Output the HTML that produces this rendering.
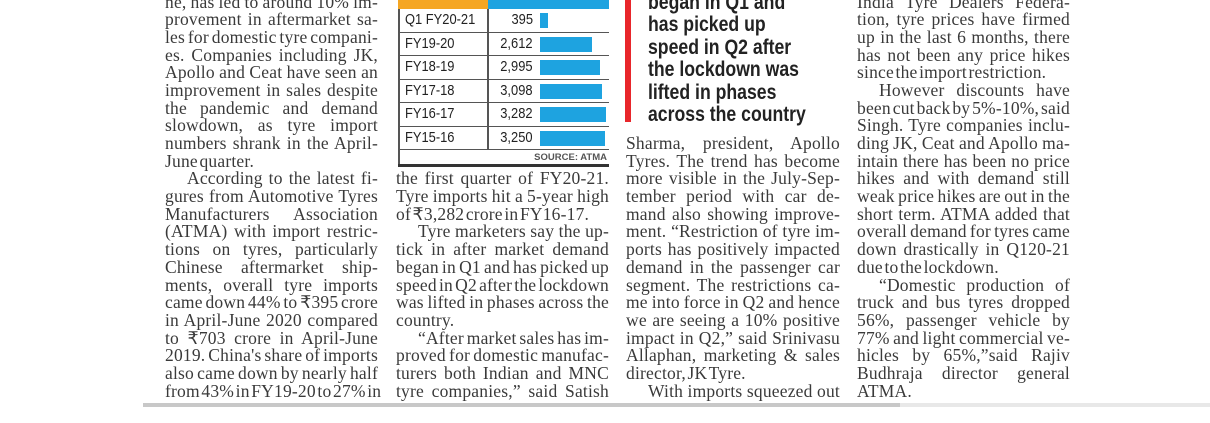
<!DOCTYPE html>
<html><head><meta charset="utf-8"><style>
*{margin:0;padding:0;box-sizing:border-box}
body{width:1210px;height:423px;background:#fff;position:relative;overflow:hidden;font-family:"Liberation Serif",serif;color:#3a3a3a}
.col{position:absolute;top:-6.5px;font-size:17.5px;line-height:17.7px;letter-spacing:0.2px;word-spacing:-3px}
.col div{height:17.7px;white-space:nowrap;text-align:justify;text-align-last:justify;overflow:visible}
.col div.l{text-align-last:left}
.col div.i{padding-left:22px}
.hl{position:absolute;left:648px;top:-8px;font-family:"Liberation Sans",sans-serif;font-weight:bold;font-size:21px;line-height:22.4px;color:#222;transform:scaleX(0.84);transform-origin:left top;white-space:nowrap}
.tb{position:absolute;left:398px;top:0;width:211px;font-family:"Liberation Sans",sans-serif;font-size:15px;color:#222}
.row{position:absolute;left:0;width:211px;height:23.5px;border-bottom:1.5px solid #555}
.row .a{position:absolute;left:7px;top:2px;transform:scaleX(0.86);transform-origin:left}
.row .n{position:absolute;right:76px;top:2px;transform:scaleX(0.86);transform-origin:right}
.row .b{position:absolute;left:142px;top:4px;height:15px;background:#1ea3e0}
</style></head><body>

<div class="col" style="left:165px;width:213px">
<div>ne, has led to around 10% im-</div>
<div>provement in aftermarket sa-</div>
<div>les for domestic tyre compani-</div>
<div>es. Companies including JK,</div>
<div>Apollo and Ceat have seen an</div>
<div>improvement in sales despite</div>
<div>the pandemic and demand</div>
<div>slowdown, as tyre import</div>
<div>numbers shrank in the April-</div>
<div class="l">June quarter.</div>
<div class="i">According to the latest fi-</div>
<div>gures from Automotive Tyres</div>
<div>Manufacturers Association</div>
<div>(ATMA) with import restric-</div>
<div>tions on tyres, particularly</div>
<div>Chinese aftermarket ship-</div>
<div>ments, overall tyre imports</div>
<div>came down 44% to ₹395 crore</div>
<div>in April-June 2020 compared</div>
<div>to ₹703 crore in April-June</div>
<div>2019. China's share of imports</div>
<div>also came down by nearly half</div>
<div>from 43% in FY19-20 to 27% in</div>
</div>

<div class="tb">
<div style="position:absolute;left:0;top:0;width:90px;height:9px;background:#f5a623"></div>
<div style="position:absolute;left:90px;top:0;width:121px;height:9px;background:#1ea3e0"></div>
<div style="position:absolute;left:0;top:9px;width:1.5px;height:157px;background:#555"></div>
<div style="position:absolute;left:89px;top:9px;width:1.5px;height:141px;background:#555"></div>
<div class="row" style="top:9px"><span class="a">Q1 FY20-21</span><span class="n">395</span><span class="b" style="width:8px"></span></div>
<div class="row" style="top:32.5px"><span class="a">FY19-20</span><span class="n">2,612</span><span class="b" style="width:52px"></span></div>
<div class="row" style="top:56px"><span class="a">FY18-19</span><span class="n">2,995</span><span class="b" style="width:60px"></span></div>
<div class="row" style="top:79.5px"><span class="a">FY17-18</span><span class="n">3,098</span><span class="b" style="width:62px"></span></div>
<div class="row" style="top:103px"><span class="a">FY16-17</span><span class="n">3,282</span><span class="b" style="width:66px"></span></div>
<div class="row" style="top:126.5px"><span class="a">FY15-16</span><span class="n">3,250</span><span class="b" style="width:65px"></span></div>
<div style="position:absolute;right:2px;top:152px;font-size:9.5px;font-weight:bold;color:#555">SOURCE: ATMA</div>
<div style="position:absolute;left:0;top:164px;width:211px;height:2.5px;background:#333"></div>
</div>

<div class="col" style="left:396px;width:213px">
<div></div><div></div><div></div><div></div><div></div><div></div><div></div><div></div><div></div><div></div>
<div>the first quarter of FY20-21.</div>
<div>Tyre imports hit a 5-year high</div>
<div class="l">of ₹3,282 crore in FY16-17.</div>
<div class="i">Tyre marketers say the up-</div>
<div>tick in after market demand</div>
<div>began in Q1 and has picked up</div>
<div>speed in Q2 after the lockdown</div>
<div>was lifted in phases across the</div>
<div class="l">country.</div>
<div class="i">“After market sales has im-</div>
<div>proved for domestic manufac-</div>
<div>turers both Indian and MNC</div>
<div>tyre companies,” said Satish</div>
</div>

<div style="position:absolute;left:625px;top:0;width:6px;height:122px;background:#e8262b"></div>
<div class="hl">began in Q1 and<br>has picked up<br>speed in Q2 after<br>the lockdown was<br>lifted in phases<br>across the country</div>

<div class="col" style="left:626px;width:214px">
<div></div><div></div><div></div><div></div><div></div><div></div><div></div><div></div>
<div>Sharma, president, Apollo</div>
<div>Tyres. The trend has become</div>
<div>more visible in the July-Sep-</div>
<div>tember period with car de-</div>
<div>mand also showing improve-</div>
<div>ment. “Restriction of tyre im-</div>
<div>ports has positively impacted</div>
<div>demand in the passenger car</div>
<div>segment. The restrictions ca-</div>
<div>me into force in Q2 and hence</div>
<div>we are seeing a 10% positive</div>
<div>impact in Q2,” said Srinivasu</div>
<div>Allaphan, marketing &amp; sales</div>
<div class="l">director, JK Tyre.</div>
<div class="i">With imports squeezed out</div>
</div>

<div class="col" style="left:857px;width:213px">
<div>India Tyre Dealers Federa-</div>
<div>tion, tyre prices have firmed</div>
<div>up in the last 6 months, there</div>
<div>has not been any price hikes</div>
<div class="l">since the import restriction.</div>
<div class="i">However discounts have</div>
<div>been cut back by 5%-10%, said</div>
<div>Singh. Tyre companies inclu-</div>
<div>ding JK, Ceat and Apollo ma-</div>
<div>intain there has been no price</div>
<div>hikes and with demand still</div>
<div>weak price hikes are out in the</div>
<div>short term. ATMA added that</div>
<div>overall demand for tyres came</div>
<div>down drastically in Q120-21</div>
<div class="l">due to the lockdown.</div>
<div class="i">“Domestic production of</div>
<div>truck and bus tyres dropped</div>
<div>56%, passenger vehicle by</div>
<div>77% and light commercial ve-</div>
<div>hicles by 65%,”said Rajiv</div>
<div>Budhraja director general</div>
<div class="l">ATMA.</div>
</div>

<div style="position:absolute;left:143px;top:403px;width:757px;height:4px;background:#c8c8c8"></div>
<div style="position:absolute;left:900px;top:403px;width:310px;height:4px;background:#e8e8e8"></div>
</body></html>
